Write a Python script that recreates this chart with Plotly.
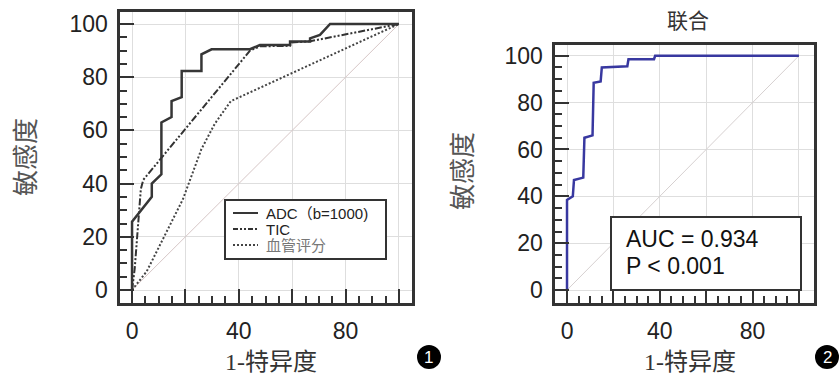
import plotly.graph_objects as go

W, H = 840, 381

# ---- data ----
adc_x = [0, 0, 7.4, 7.4, 11, 11, 14.8, 14.8, 18.6, 18.6, 26, 26, 29.8, 44.2, 47.9, 59.2, 59.2, 66.7, 66.7, 70.4, 74.2, 100]
adc_y = [0, 25.7, 35, 40, 43.5, 63, 65, 71, 72.5, 82.3, 82.3, 88.6, 90.5, 90.5, 92.1, 92.1, 93.4, 93.4, 94.6, 95.9, 100, 100]

tic_x = [0, 1, 3.3, 4.2, 44.2, 47.9, 59.2, 59.5, 66.7, 100]
tic_y = [0, 8, 38, 41.4, 90, 91.6, 91.8, 93, 93.5, 100]

vas_x = [0, 5.5, 19, 26, 31, 37, 100]
vas_y = [0, 7, 34, 53, 62.5, 71, 100]

comb_x = [0, 0, 2.5, 3, 7, 7.5, 11, 11.5, 14.5, 15, 26, 26.5, 37.5, 38, 100]
comb_y = [0, 38.5, 40, 47, 48, 65, 66, 88.5, 89, 95, 95.5, 98.5, 98.5, 100, 100]

diag = [0, 100]

series_names = ["ADC（b=1000)", "TIC", "血管评分"]
x_tickvals = [0, 20, 40, 60, 80, 100]
x_ticktext = ["0", "", "40", "", "80", ""]
y_tickvals = [0, 20, 40, 60, 80, 100]
y_ticktext = ["0", "20", "40", "60", "80", "100"]
minor_vals = [v for v in range(5, 100, 5) if v % 20 != 0]

auc_text = ["AUC = 0.934", "P &lt; 0.001"]


def px(x):
    return x / W


def py(y):
    return 1 - y / H


fig = go.Figure()

dark = "#333333"
fig.add_trace(go.Scatter(x=diag, y=diag, mode="lines", line=dict(color="#d6c6c6", width=1),
                         xaxis="x", yaxis="y", showlegend=False, hoverinfo="skip"))
fig.add_trace(go.Scatter(x=vas_x, y=vas_y, mode="lines", name=series_names[2],
                         line=dict(color="#444444", width=2, dash="2px,2px"),
                         xaxis="x", yaxis="y", showlegend=False))
fig.add_trace(go.Scatter(x=tic_x, y=tic_y, mode="lines", name=series_names[1],
                         line=dict(color="#333333", width=2, dash="7px,2px,2px,2px,2px,2px"),
                         xaxis="x", yaxis="y", showlegend=False))
fig.add_trace(go.Scatter(x=adc_x, y=adc_y, mode="lines", name=series_names[0],
                         line=dict(color="#363636", width=2.5),
                         xaxis="x", yaxis="y", showlegend=False))

fig.add_trace(go.Scatter(x=diag, y=diag, mode="lines", line=dict(color="#d6d0d0", width=1),
                         xaxis="x2", yaxis="y2", showlegend=False, hoverinfo="skip"))
fig.add_trace(go.Scatter(x=comb_x, y=comb_y, mode="lines", name="联合",
                         line=dict(color="#3838a0", width=2.5),
                         xaxis="x2", yaxis="y2", showlegend=False))

tickfont = dict(family="Liberation Sans, Arial, sans-serif", size=23, color="#222222")


def xaxis(domain, rng, anchor):
    return dict(domain=domain, range=rng, anchor=anchor, automargin=False,
                tickmode="array", tickvals=x_tickvals, ticktext=x_ticktext,
                ticks="inside", ticklen=14, tickwidth=2, tickcolor=dark,
                minor=dict(tickmode="array", tickvals=minor_vals, ticks="inside",
                           ticklen=7, tickwidth=1.5, tickcolor=dark, showgrid=False),
                showgrid=True, gridcolor="#dedede", gridwidth=1, zeroline=False,
                showline=True, mirror=True, linecolor=dark, linewidth=3,
                tickfont=tickfont, ticklabelstandoff=6)


def yaxis(domain, rng, anchor):
    return dict(domain=domain, range=rng, anchor=anchor, automargin=False,
                tickmode="array", tickvals=y_tickvals, ticktext=y_ticktext,
                ticks="inside", ticklen=14, tickwidth=2, tickcolor=dark,
                minor=dict(tickmode="array", tickvals=minor_vals, ticks="inside",
                           ticklen=7, tickwidth=1.5, tickcolor=dark, showgrid=False),
                showgrid=True, gridcolor="#dedede", gridwidth=1, zeroline=False,
                showline=True, mirror=True, linecolor=dark, linewidth=3,
                tickfont=tickfont, ticklabelstandoff=4)


annotations = []
shapes = []

# axis titles
for cx in (271, 690):
    annotations.append(dict(x=px(cx), y=py(362), xref="paper", yref="paper", text="1-特异度",
                            showarrow=False, xanchor="center", yanchor="middle",
                            font=dict(family="Liberation Serif, Noto Sans CJK SC", size=24, color="#333333")))
for cx, cy in ((23, 157), (460, 171)):
    annotations.append(dict(x=px(cx), y=py(cy), xref="paper", yref="paper", text="敏感度",
                            showarrow=False, textangle=-90, xanchor="center", yanchor="middle",
                            font=dict(family="Noto Sans CJK SC", size=26, color="#555555")))
annotations.append(dict(x=px(688), y=py(19), xref="paper", yref="paper", text="联合",
                        showarrow=False, xanchor="center", yanchor="middle",
                        font=dict(family="Noto Sans CJK SC", size=21, color="#333333")))

# legend (manual)
shapes.append(dict(type="rect", xref="paper", yref="paper", x0=px(225), x1=px(386), y0=py(259), y1=py(200),
                   line=dict(color=dark, width=2), fillcolor="white", layer="above"))
leg_styles = [dict(color="#363636", width=2, dash="solid"),
              dict(color="#333333", width=2, dash="5px,2px,2px,2px,2px,2px"),
              dict(color="#444444", width=2, dash="2px,2px")]
leg_colors = ["#222222", "#222222", "#777777"]
for i, (name, st) in enumerate(zip(series_names, leg_styles)):
    yy = 213 + 16 * i
    shapes.append(dict(type="line", xref="paper", yref="paper", x0=px(233), x1=px(258), y0=py(yy), y1=py(yy),
                       line=st, layer="above"))
    annotations.append(dict(x=px(265), y=py(yy), xref="paper", yref="paper", text=name, showarrow=False,
                            xanchor="left", yanchor="middle", borderpad=0,
                            font=dict(family="Liberation Sans, Noto Sans CJK SC", size=15, color=leg_colors[i])))

# AUC box
shapes.append(dict(type="rect", xref="paper", yref="paper", x0=px(611), x1=px(801), y0=py(290), y1=py(217),
                   line=dict(color=dark, width=2), fillcolor="white", layer="above"))
for i, t in enumerate(auc_text):
    annotations.append(dict(x=px(625), y=py(239.5 + 26 * i), xref="paper", yref="paper", text=t, showarrow=False,
                            xanchor="left", yanchor="middle", borderpad=0,
                            font=dict(family="Liberation Sans, Arial", size=23, color="#111111")))

# numbered circles
for num, cx in (("1", 429), ("2", 827)):
    shapes.append(dict(type="circle", xref="paper", yref="paper", x0=px(cx - 12), x1=px(cx + 12),
                       y0=py(357 + 12), y1=py(357 - 12), fillcolor="black", line=dict(color="black", width=0)))
    annotations.append(dict(x=px(cx), y=py(357), xref="paper", yref="paper", text=num, showarrow=False,
                            xanchor="center", yanchor="middle",
                            font=dict(family="Liberation Sans", size=17, color="white")))

fig.update_layout(
    width=W, height=H, margin=dict(l=0, r=0, t=0, b=0, autoexpand=False),
    paper_bgcolor="white", plot_bgcolor="white",
    xaxis=xaxis([px(119.5), px(411.5)], [-4.7, 104.7], "y"),
    yaxis=yaxis([py(302.5), py(11.5)], [-4.7, 104.7], "x"),
    xaxis2=xaxis([px(554.5), px(814)], [-5.4, 106.5], "y2"),
    yaxis2=yaxis([py(302.5), py(44.5)], [-5.3, 104.8], "x2"),
    annotations=annotations, shapes=shapes, showlegend=False,
)

fig.write_html("out.html", config={"displayModeBar": False},
               post_script="document.body.style.margin='0';document.body.style.overflow='hidden';")
